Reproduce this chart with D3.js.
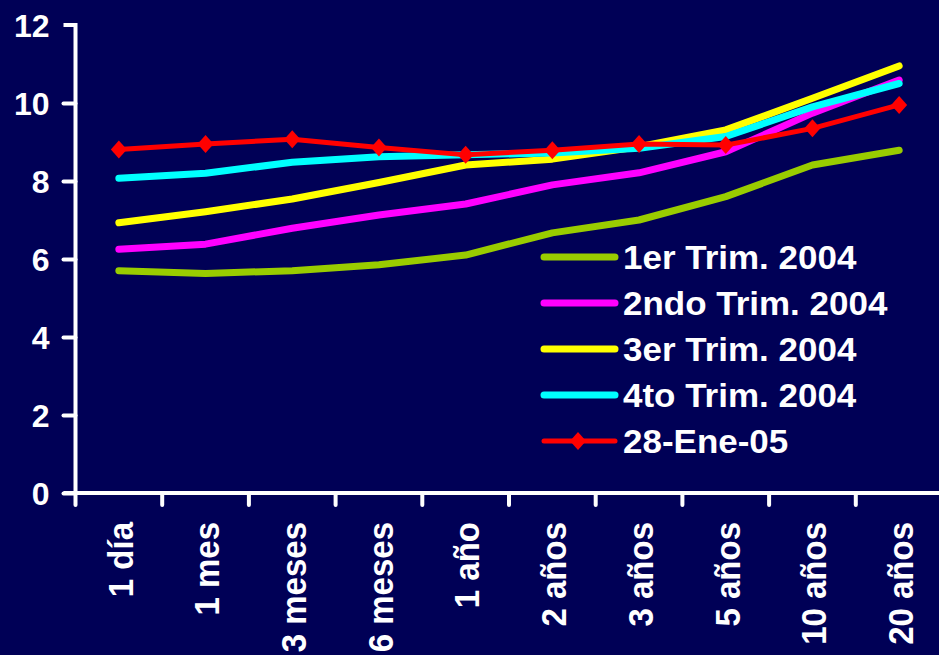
<!DOCTYPE html>
<html>
<head>
<meta charset="utf-8">
<script src="https://cdn.jsdelivr.net/npm/d3@7"></script>
<style>
html,body{margin:0;padding:0;background:#000056;}
svg{display:block;}
text{font-family:"Liberation Sans",Arial,sans-serif;font-weight:bold;fill:#ffffff;}
</style>
</head>
<body>
<svg id="chart" width="939" height="655"></svg>
<script>
const categories = ["1 día","1 mes","3 meses","6 meses","1 año","2 años","3 años","5 años","10 años","20 años"];
const seriesNames = ["1er Trim. 2004","2ndo Trim. 2004","3er Trim. 2004","4to Trim. 2004","28-Ene-05"];
const trim1 = [5.70,5.63,5.70,5.85,6.10,6.67,7.00,7.60,8.41,8.79];
const trim2 = [6.25,6.38,6.79,7.13,7.41,7.90,8.21,8.75,9.74,10.59];
const trim3 = [6.93,7.21,7.54,7.96,8.41,8.56,8.88,9.31,10.12,10.95];
const trim4 = [8.07,8.20,8.48,8.62,8.67,8.72,8.84,9.14,9.90,10.50];
const ene05 = [8.81,8.95,9.07,8.86,8.67,8.79,8.95,8.92,9.35,9.95];
const yTicks = [0,2,4,6,8,10,12];
const colors = ["#99cc00","#ff00ff","#ffff00","#00ffff","#ff0000"];

const seriesValues = [trim1,trim2,trim3,trim4,ene05];

const svg = d3.select("#chart");
svg.append("rect").attr("width",939).attr("height",655).attr("fill","#000056");

const x0 = 75.5, xStep = 86.7;
const x = d3.scaleBand().domain(categories).range([x0, x0 + xStep*categories.length]).padding(0);
const y = d3.scaleLinear().domain([0,12]).range([493,25]);

// axes
const yAxis = d3.axisLeft(y).tickValues(yTicks).tickSize(12).tickPadding(14);
const gy = svg.append("g").attr("transform",`translate(${x0},0)`).call(yAxis);
gy.select(".domain").attr("stroke","#fff").attr("stroke-width",4).attr("d",`M-12,${y(12)}H0V${y(0)}`);
gy.selectAll(".tick line").attr("stroke","#fff").attr("stroke-width",4).attr("stroke-linecap","round");
gy.selectAll(".tick text").attr("fill","#fff").style("font-size","32px").attr("dy","0.36em");
gy.select(".tick:last-of-type line").remove();

// x axis: ticks at band boundaries
const gx = svg.append("g").attr("transform",`translate(0,${y(0)})`);
gx.append("line").attr("x1",x0-12).attr("x2",939).attr("y1",0).attr("y2",0)
  .attr("stroke","#fff").attr("stroke-width",4);
const boundaries = categories.map(c => x(c)).concat([x(categories[categories.length-1]) + x.bandwidth()]);
gx.selectAll("line.tk").data(boundaries).join("line").attr("class","tk")
  .attr("x1",d=>d).attr("x2",d=>d).attr("y1",0).attr("y2",12)
  .attr("stroke","#fff").attr("stroke-width",4).attr("stroke-linecap","round");
gx.selectAll("text.xl").data(categories).join("text").attr("class","xl")
  .attr("transform",d=>`translate(${x(d)+x.bandwidth()/2+1},29) rotate(-90) scale(1,1.08)`)
  .attr("text-anchor","end").attr("dy","0.36em")
  .style("font-size","33px")
  .text(d=>d);

// lines
const line = d3.line().x((d,i)=>x(categories[i])+x.bandwidth()/2).y(d=>y(d));
seriesValues.forEach((vals,si)=>{
  svg.append("path").datum(vals).attr("d",line).attr("fill","none")
    .attr("stroke",colors[si]).attr("stroke-width", si===4 ? 5 : 7)
    .attr("stroke-linejoin","round").attr("stroke-linecap","round");
});
const diamond = {draw(ctx,size){const w=8,h=9;ctx.moveTo(0,-h);ctx.lineTo(w,0);ctx.lineTo(0,h);ctx.lineTo(-w,0);ctx.closePath();}};
svg.append("g").selectAll("path").data(ene05).join("path")
  .attr("transform",(d,i)=>`translate(${x(categories[i])+x.bandwidth()/2},${y(d)})`)
  .attr("d",d3.symbol().type(diamond)).attr("fill","#ff0000");

// legend
const leg = svg.append("g");
const legY0 = 257, legStep = 46;
seriesNames.forEach((n,i)=>{
  const yy = legY0 + i*legStep;
  leg.append("line").attr("x1",544).attr("x2",615).attr("y1",yy).attr("y2",yy)
    .attr("stroke",colors[i]).attr("stroke-width", i===4 ? 5 : 7).attr("stroke-linecap","round");
  if(i===4){
    leg.append("path").attr("transform",`translate(578,${yy})`).attr("d",d3.symbol().type(diamond)).attr("fill","#ff0000");
  }
  leg.append("text").attr("transform",`translate(623,${yy}) scale(1.06,1)`).attr("dy","0.36em").style("font-size","33px").text(n);
});
</script>
</body>
</html>
